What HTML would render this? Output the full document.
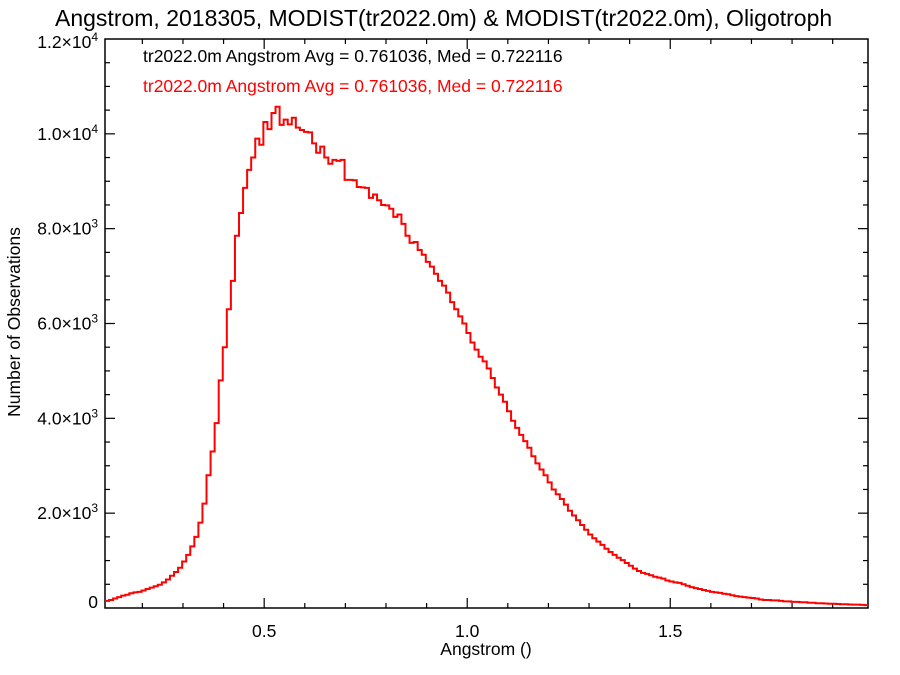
<!DOCTYPE html>
<html><head><meta charset="utf-8"><style>
body{margin:0;background:#fff}
svg{display:block;font-family:"Liberation Sans",sans-serif}
</style></head><body>
<svg id="chart" width="900" height="675" viewBox="0 0 900 675" xmlns="http://www.w3.org/2000/svg">
<text x="55" y="26" font-size="23" fill="#000">Angstrom, 2018305, MODIST(tr2022.0m) &amp; MODIST(tr2022.0m), Oligotroph</text>
<text x="143" y="62" font-size="17.5" fill="#000">tr2022.0m Angstrom Avg = 0.761036, Med = 0.722116</text>
<text x="143" y="92" font-size="17.5" fill="#ff0000">tr2022.0m Angstrom Avg = 0.761036, Med = 0.722116</text>
<text transform="translate(20,322) rotate(-90)" text-anchor="middle" font-size="17.5">Number of Observations</text>
<text x="486" y="655" text-anchor="middle" font-size="17.5">Angstrom ()</text>
<g id="axes"></g>
<path id="series" fill="none" stroke="#ff0000" stroke-width="2"/>
</svg>
<script>
const binStart = 0.108;
const binWidth = 0.01;
const counts = [150,170,200,230,260,280,310,330,340,370,400,430,460,490,540,600,680,760,850,980,1120,1300,1500,1800,2200,2800,3300,3900,4800,5500,
6300,6900,7850,8330,8860,9240,9500,9900,9770,10250,10100,10440,10570,10190,10300,10200,10340,10130,10080,10040,
10030,9800,9600,9730,9500,9370,9450,9430,9450,9030,9030,9020,8880,8870,8860,8650,8720,8600,8500,8490,
8420,8250,8300,8100,7850,7700,7720,7550,7450,7300,7200,7050,6900,6800,6650,6450,6300,6150,6000,5800,
5600,5450,5300,5200,5050,4850,4650,4500,4350,4150,3950,3800,3650,3520,3380,3200,3050,2920,2800,2650,
2500,2400,2300,2180,2050,1950,1850,1750,1650,1550,1470,1400,1330,1250,1180,1120,1060,1010,950,890,
830,780,740,720,690,660,640,620,580,560,540,530,500,470,440,420,400,380,360,340,
330,320,300,290,270,250,240,230,220,210,200,180,170,170,160,160,150,140,140,130,
130,120,120,110,110,100,100,95,90,90,85,80,80,75,70,70,65,60];
const xMajorTicks = [0.5, 1.0, 1.5];
const xMajorLabels = ["0.5", "1.0", "1.5"];
const yMajorTicks = [0, 2000, 4000, 6000, 8000, 10000, 12000];
const yMantissa = ["0", "2.0", "4.0", "6.0", "8.0", "1.0", "1.2"];
const yExponent = ["", "3", "3", "3", "3", "4", "4"];

const L=105,R=868,T=39,B=608, xMin=0.108, xMax=1.987, yMax=12000;
const X=v=>L+(v-xMin)/(xMax-xMin)*(R-L);
const Y=v=>B-v/yMax*(B-T);
const NS="http://www.w3.org/2000/svg";
const axes=document.getElementById('axes');
function mk(tag,attrs){const e=document.createElementNS(NS,tag);for(const k in attrs)e.setAttribute(k,attrs[k]);axes.appendChild(e);return e;}
const frame=mk('rect',{x:L,y:T,width:R-L,height:B-T,fill:'none',stroke:'#000','stroke-width':1.5});


for(let v=0.2; v<xMax; v+=0.1){
  const vv=Math.round(v*10)/10; const major=Math.abs(vv*2-Math.round(vv*2))<1e-6;
  const len=major?10:5; const x=X(vv);
  const t1=mk('line',{x1:x,x2:x,y1:B,y2:B-len,stroke:'#000','stroke-width':1.2});
  
  
  const t2=mk('line',{x1:x,x2:x,y1:T,y2:T+len,stroke:'#000','stroke-width':1.2});
  
  
}
xMajorTicks.forEach((v,i)=>{
  const t=mk('text',{x:X(v),y:B+29,'text-anchor':'middle','font-size':17.5});
  t.textContent=xMajorLabels[i];
  
  
});
for(let v=500; v<yMax; v+=500){
  const major=v%2000===0; const len=major?10:5; const y=Y(v);
  const t1=mk('line',{x1:L,x2:L+len,y1:y,y2:y,stroke:'#000','stroke-width':1.2});
  
  
  const t2=mk('line',{x1:R,x2:R-len,y1:y,y2:y,stroke:'#000','stroke-width':1.2});
  
  
}
yMajorTicks.forEach((v,i)=>{
  const y=Math.max(Y(v),T+3)+6;
  const t=mk('text',{x:98,y:(v===0?Y(v)-0:y),'text-anchor':'end','font-size':17.5});
  if(yExponent[i]===""){t.textContent=yMantissa[i];}
  else{
    const a=document.createElementNS(NS,'tspan');a.textContent=yMantissa[i]+"\u00d710";t.appendChild(a);
    const b=document.createElementNS(NS,'tspan');b.setAttribute('font-size','12');b.setAttribute('dy','-7');b.textContent=yExponent[i];t.appendChild(b);
  }
  
  
});
let d='';
counts.forEach((c,i)=>{
  const x0=X(binStart+i*binWidth), x1=X(binStart+(i+1)*binWidth), y=Y(c);
  d+=(i===0?'M'+x0+','+y:'L'+x0+','+y)+' L'+Math.min(x1,R)+','+y+' ';
});
document.getElementById('series').setAttribute('d',d);
</script>
</body></html>
